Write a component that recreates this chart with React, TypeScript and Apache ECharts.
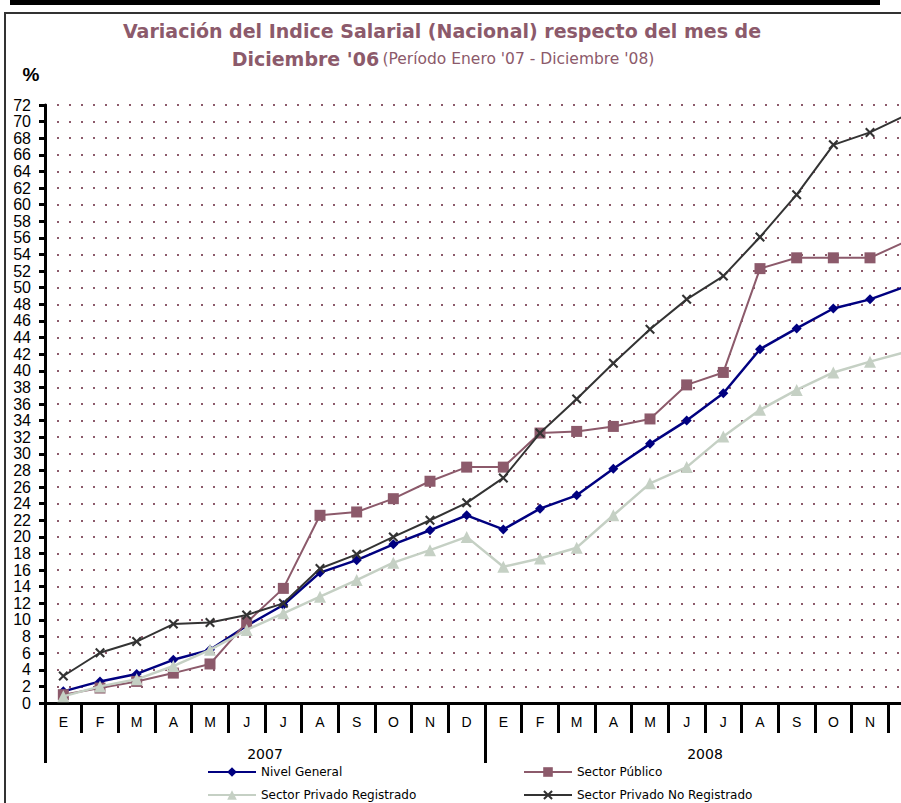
import React, { useEffect, useRef } from 'react';
import * as echarts from 'echarts';

const months = ['E', 'F', 'M', 'A', 'M', 'J', 'J', 'A', 'S', 'O', 'N', 'D'];
const categories = [...months, ...months];
const years = ['2007', '2008'];

const titleLine1 = 'Variación del Indice Salarial (Nacional) respecto del mes de';
const titleLine2Bold = "Diciembre '06";
const titleLine2Normal = "(Período Enero '07 - Diciembre '08)";
const yUnit = '%';

const seriesNames = [
  'Nivel General',
  'Sector Público',
  'Sector Privado Registrado',
  'Sector Privado No Registrado',
];

const nivelGeneral = [
  1.4, 2.6, 3.5, 5.2, 6.4, 9.3, 11.8, 15.7, 17.2, 19.1, 20.8, 22.6,
  20.9, 23.4, 25.0, 28.2, 31.2, 34.0, 37.3, 42.6, 45.1, 47.5, 48.6, 50.2,
];
const sectorPublico = [
  1.0, 1.8, 2.6, 3.6, 4.7, 9.7, 13.8, 22.6, 23.0, 24.6, 26.7, 28.4,
  28.4, 32.5, 32.7, 33.3, 34.2, 38.3, 39.8, 52.3, 53.6, 53.6, 53.6, 55.6,
];
const privadoRegistrado = [
  0.8, 2.0, 2.85, 4.45, 6.4, 8.8, 10.8, 12.8, 14.8, 16.9, 18.4, 20.0,
  16.4, 17.4, 18.7, 22.6, 26.45, 28.4, 32.1, 35.3, 37.7, 39.8, 41.1, 42.3,
];
const privadoNoRegistrado = [
  3.25, 6.05, 7.4, 9.5, 9.7, 10.6, 12.0, 16.2, 17.9, 20.0, 22.0, 24.1,
  27.1, 32.5, 36.6, 40.9, 45.0, 48.6, 51.4, 56.1, 61.2, 67.2, 68.7, 70.8,
];

const FONT = '"Liberation Sans", Arial, sans-serif';
const WIDE = '"DejaVu Sans", Verdana, sans-serif';
const MAUVE = '#8C5A6B';
const X_SYMBOL =
  'path://M0,1.5 L1.5,0 L5,3.5 L8.5,0 L10,1.5 L6.5,5 L10,8.5 L8.5,10 L5,6.5 L1.5,10 L0,8.5 L3.5,5 Z';

export default function App() {
  const ref = useRef<HTMLDivElement>(null);

  useEffect(() => {
    if (!ref.current) return;
    document.body.style.overflow = 'hidden';
    const chart = echarts.init(ref.current, null, { renderer: 'svg' });

    const legendBase = {
      orient: 'horizontal',
      padding: 0,
      itemWidth: 48,
      itemHeight: 12,
      selectedMode: false,
      textStyle: { fontFamily: WIDE, fontSize: 12, color: '#000' },
    };

    chart.setOption({
      animation: false,
      backgroundColor: '#fff',
      textStyle: { fontFamily: FONT },
      grid: { left: 45, right: 0, top: 105, bottom: 100, containLabel: false },
      legend: [
        { ...legendBase, data: [seriesNames[0]], left: 207, top: 766 },
        { ...legendBase, data: [seriesNames[1]], left: 523, top: 766 },
        { ...legendBase, data: [seriesNames[2]], left: 207, top: 789 },
        { ...legendBase, data: [seriesNames[3]], left: 523, top: 789 },
      ],
      xAxis: [
        {
          type: 'category',
          data: categories,
          position: 'bottom',
          boundaryGap: true,
          axisLine: { show: true, lineStyle: { color: '#000', width: 3 } },
          axisTick: { show: true, interval: 0, length: 30, lineStyle: { color: '#000', width: 3 } },
          axisLabel: { interval: 0, margin: 12, fontSize: 14, color: '#000', fontFamily: FONT },
          splitLine: { show: false },
        },
        {
          type: 'category',
          data: years,
          position: 'bottom',
          boundaryGap: true,
          axisLine: { show: false },
          axisTick: { show: true, interval: 0, length: 60, lineStyle: { color: '#000', width: 3 } },
          axisLabel: { interval: 0, margin: 44, fontSize: 14, color: '#000', fontFamily: WIDE },
          splitLine: { show: false },
        },
      ],
      yAxis: {
        type: 'value',
        min: 0,
        max: 72,
        interval: 2,
        axisLine: { show: true, lineStyle: { color: '#000', width: 3 } },
        axisTick: { show: true, length: 6, lineStyle: { color: '#000', width: 3 } },
        axisLabel: { margin: 14, fontSize: 16, color: '#000', fontFamily: FONT },
        splitLine: { show: true, lineStyle: { color: MAUVE, width: 2, type: [2, 10] } },
      },
      series: [
        {
          name: seriesNames[0],
          type: 'line',
          data: nivelGeneral,
          symbol: 'diamond',
          symbolSize: 10,
          itemStyle: { color: '#000080' },
          lineStyle: { color: '#000080', width: 2.5 },
          z: 3,
        },
        {
          name: seriesNames[1],
          type: 'line',
          data: sectorPublico,
          symbol: 'rect',
          symbolSize: 11,
          itemStyle: { color: MAUVE },
          lineStyle: { color: MAUVE, width: 2 },
          z: 4,
        },
        {
          name: seriesNames[2],
          type: 'line',
          data: privadoRegistrado,
          symbol: 'triangle',
          symbolSize: 12,
          itemStyle: { color: '#C5D0C4' },
          lineStyle: { color: '#C5D0C4', width: 2.5 },
          z: 5,
        },
        {
          name: seriesNames[3],
          type: 'line',
          data: privadoNoRegistrado,
          symbol: X_SYMBOL,
          symbolSize: 10,
          itemStyle: { color: '#333333' },
          lineStyle: { color: '#333333', width: 2 },
          z: 6,
        },
      ],
      graphic: [
        { type: 'rect', shape: { x: 10, y: 0, width: 870, height: 5 }, style: { fill: '#000' }, silent: true },
        { type: 'line', shape: { x1: 5, y1: 12, x2: 5, y2: 803 }, style: { stroke: '#333', lineWidth: 2 }, silent: true },
        { type: 'line', shape: { x1: 4, y1: 13, x2: 925, y2: 13 }, style: { stroke: '#333', lineWidth: 2 }, silent: true },
        {
          type: 'text',
          x: 442,
          y: 31,
          silent: true,
          style: {
            text: titleLine1,
            fill: MAUVE,
            font: `bold 19px ${WIDE}`,
            textAlign: 'center',
            textVerticalAlign: 'middle',
          },
        },
        {
          type: 'text',
          x: 443,
          y: 59,
          silent: true,
          style: {
            text: `{b|${titleLine2Bold}} {n|${titleLine2Normal}}`,
            textAlign: 'center',
            textVerticalAlign: 'middle',
            rich: {
              b: { fontFamily: WIDE, fontWeight: 'bold', fontSize: 19, fill: MAUVE, color: MAUVE },
              n: { fontFamily: WIDE, fontSize: 15.5, fill: MAUVE, color: MAUVE },
            },
          },
        },
        {
          type: 'text',
          x: 31,
          y: 74,
          silent: true,
          style: {
            text: yUnit,
            fill: '#000',
            font: `bold 19px ${FONT}`,
            textAlign: 'center',
            textVerticalAlign: 'middle',
          },
        },
      ],
    });

    return () => chart.dispose();
  }, []);

  return (
    <div
      ref={ref}
      style={{ position: 'fixed', left: 0, top: 0, width: 925, height: 803, background: '#fff' }}
    />
  );
}
